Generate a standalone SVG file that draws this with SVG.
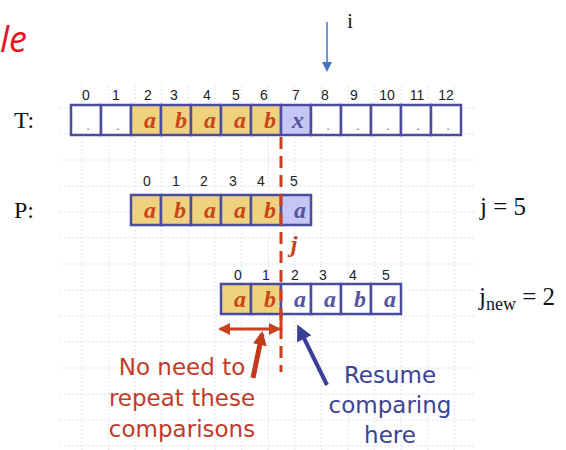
<svg xmlns="http://www.w3.org/2000/svg" width="566" height="450" viewBox="0 0 566 450">
<style>
.grid line{stroke:#DCE3F5;stroke-width:1;stroke-dasharray:2 2}
.cell{stroke:#4B4BA0;stroke-width:2.5}
.y{fill:#EFD27E}
.w{fill:#FFFFFF}
.v{fill:#C6C6F5}
.idx{font-family:"Liberation Sans",Arial,sans-serif;font-size:14px;fill:#222;text-anchor:middle}
.lr{font-family:"Liberation Serif","Times New Roman",serif;font-style:italic;font-weight:bold;font-size:24px;fill:#C8461A;text-anchor:middle}
.lb{font-family:"Liberation Serif","Times New Roman",serif;font-style:italic;font-weight:bold;font-size:24px;fill:#5555A0;text-anchor:middle}
.dot{font-family:"Liberation Sans",Arial,sans-serif;font-size:13px;fill:#666;text-anchor:middle}
.lab{font-family:"Liberation Serif","Times New Roman",serif;font-size:24px;fill:#111}
.note{font-family:"DejaVu Sans",Verdana,sans-serif;font-size:23px;text-anchor:middle}
</style>
<defs>
<marker id="ah-blue" markerWidth="10" markerHeight="10" refX="8" refY="5" orient="auto" markerUnits="userSpaceOnUse"><path d="M0,0 L10,5 L0,10 z" fill="#4472C4"/></marker>
<marker id="ah-red" markerWidth="12" markerHeight="12" refX="10" refY="6" orient="auto-start-reverse" markerUnits="userSpaceOnUse"><path d="M0,0 L12,6 L0,12 z" fill="#C8401E"/></marker>
<marker id="ah-red2" markerWidth="14" markerHeight="14" refX="11" refY="7" orient="auto" markerUnits="userSpaceOnUse"><path d="M0,0 L14,7 L0,14 z" fill="#C23A1A"/></marker>
<marker id="ah-navy" markerWidth="16" markerHeight="16" refX="12" refY="8" orient="auto" markerUnits="userSpaceOnUse"><path d="M0,0 L16,8 L0,16 z" fill="#3B3F99"/></marker>
</defs>
<rect width="566" height="450" fill="#FFFFFF"/>
<g class="grid">
<line x1="82" y1="85" x2="82" y2="450"/><line x1="108.6" y1="85" x2="108.6" y2="450"/><line x1="135.2" y1="85" x2="135.2" y2="450"/><line x1="161.8" y1="85" x2="161.8" y2="450"/><line x1="188.4" y1="85" x2="188.4" y2="450"/><line x1="215" y1="85" x2="215" y2="450"/><line x1="241.6" y1="85" x2="241.6" y2="450"/><line x1="268.2" y1="85" x2="268.2" y2="450"/><line x1="294.8" y1="85" x2="294.8" y2="450"/><line x1="321.4" y1="85" x2="321.4" y2="450"/><line x1="348" y1="85" x2="348" y2="450"/><line x1="374.6" y1="85" x2="374.6" y2="450"/><line x1="401.2" y1="85" x2="401.2" y2="450"/><line x1="427.8" y1="85" x2="427.8" y2="450"/><line x1="454.4" y1="85" x2="454.4" y2="450"/>
<line x1="60" y1="108" x2="475" y2="108"/><line x1="60" y1="134" x2="475" y2="134"/><line x1="60" y1="160" x2="475" y2="160"/><line x1="60" y1="186" x2="475" y2="186"/><line x1="60" y1="212" x2="475" y2="212"/><line x1="60" y1="238" x2="475" y2="238"/><line x1="60" y1="264" x2="475" y2="264"/><line x1="60" y1="290" x2="475" y2="290"/><line x1="60" y1="316" x2="475" y2="316"/><line x1="60" y1="342" x2="475" y2="342"/><line x1="60" y1="368" x2="475" y2="368"/><line x1="60" y1="394" x2="475" y2="394"/><line x1="60" y1="420" x2="475" y2="420"/><line x1="60" y1="446" x2="475" y2="446"/>
</g>
<text x="0" y="52" font-family="'Open Sans','Noto Sans',sans-serif" font-style="italic" font-size="36" fill="#E8141E">le</text>
<g id="i-pointer">
<text x="350" y="28" font-family="'Liberation Serif',serif" font-size="20" fill="#111" text-anchor="middle">i</text>
</g>
<g id="T">
<text class="lab" x="14" y="128">T:</text>
<rect class="cell w" x="71" y="105" width="30" height="30"/><rect class="cell w" x="101" y="105" width="30" height="30"/>
<rect class="cell y" x="131" y="105" width="30" height="30"/><rect class="cell y" x="161" y="105" width="30" height="30"/><rect class="cell y" x="191" y="105" width="30" height="30"/><rect class="cell y" x="221" y="105" width="30" height="30"/><rect class="cell y" x="251" y="105" width="30" height="30"/>
<rect class="cell v" x="281" y="105" width="30" height="30"/>
<rect class="cell w" x="311" y="105" width="30" height="30"/><rect class="cell w" x="341" y="105" width="30" height="30"/><rect class="cell w" x="371" y="105" width="30" height="30"/><rect class="cell w" x="401" y="105" width="30" height="30"/><rect class="cell w" x="431" y="105" width="30" height="30"/>
<text class="idx" x="86" y="100">0</text><text class="idx" x="116" y="100">1</text><text class="idx" x="148" y="100">2</text><text class="idx" x="174" y="100">3</text><text class="idx" x="207" y="100">4</text><text class="idx" x="236" y="100">5</text><text class="idx" x="264" y="100">6</text><text class="idx" x="296" y="100">7</text><text class="idx" x="325" y="100">8</text><text class="idx" x="354" y="100">9</text><text class="idx" x="387" y="100">10</text><text class="idx" x="417" y="100">11</text><text class="idx" x="446" y="100">12</text>
<text class="dot" x="88" y="130">.</text><text class="dot" x="118" y="130">.</text>
<text class="lr" x="150" y="128">a</text><text class="lr" x="181" y="128">b</text><text class="lr" x="210" y="128">a</text><text class="lr" x="240" y="128">a</text><text class="lr" x="270" y="128">b</text>
<text class="lb" x="298" y="128" fill="#55558A">x</text>
<text class="dot" x="328" y="130">.</text><text class="dot" x="358" y="130">.</text><text class="dot" x="388" y="130">.</text><text class="dot" x="418" y="130">.</text><text class="dot" x="448" y="130">.</text>
</g>
<g id="P">
<text class="lab" x="14" y="218">P:</text>
<rect class="cell y" x="131" y="195" width="30" height="30"/><rect class="cell y" x="161" y="195" width="30" height="30"/><rect class="cell y" x="191" y="195" width="30" height="30"/><rect class="cell y" x="221" y="195" width="30" height="30"/><rect class="cell y" x="251" y="195" width="30" height="30"/>
<rect class="cell v" x="281" y="195" width="30" height="30"/>
<text class="idx" x="147" y="186">0</text><text class="idx" x="176" y="186">1</text><text class="idx" x="204" y="186">2</text><text class="idx" x="233" y="186">3</text><text class="idx" x="261" y="186">4</text><text class="idx" x="294" y="186">5</text>
<text class="lr" x="150" y="218">a</text><text class="lr" x="180" y="218">b</text><text class="lr" x="210" y="218">a</text><text class="lr" x="240" y="218">a</text><text class="lr" x="270" y="218">b</text>
<text class="lb" x="300" y="218">a</text>
<text class="lr" x="294" y="252" font-weight="normal">j</text>
<text x="480" y="215" font-family="'Liberation Serif',serif" font-size="25" fill="#111">j = 5</text>
</g>
<g id="P-shifted">
<rect class="cell y" x="221" y="284" width="30" height="30"/><rect class="cell y" x="251" y="284" width="30" height="30"/>
<rect class="cell w" x="281" y="284" width="30" height="30"/><rect class="cell w" x="311" y="284" width="30" height="30"/><rect class="cell w" x="341" y="284" width="30" height="30"/><rect class="cell w" x="371" y="284" width="30" height="30"/>
<text class="idx" x="238" y="280">0</text><text class="idx" x="266" y="280">1</text><text class="idx" x="295" y="280">2</text><text class="idx" x="323" y="280">3</text><text class="idx" x="353" y="280">4</text><text class="idx" x="386" y="280">5</text>
<text class="lr" x="240" y="307">a</text><text class="lr" x="270" y="307">b</text>
<text class="lb" x="300" y="307">a</text><text class="lb" x="330" y="307">a</text><text class="lb" x="360" y="307">b</text><text class="lb" x="390" y="307">a</text>
<text x="479" y="305" font-family="'Liberation Serif',serif" font-size="25" fill="#111">j<tspan font-size="18" dy="5">new</tspan><tspan dy="-5"> = 2</tspan></text>
</g>
<g id="connectors">
<line x1="327" y1="22" x2="327" y2="70" stroke="#4472C4" stroke-width="1.5" marker-end="url(#ah-blue)"/>
<line x1="281" y1="137" x2="281" y2="372" stroke="#C8401E" stroke-width="3" stroke-dasharray="12 7"/>
<line x1="281" y1="314" x2="281" y2="330" stroke="#C8401E" stroke-width="3"/>
<line x1="220" y1="329" x2="279" y2="329" stroke="#C8401E" stroke-width="3" marker-start="url(#ah-red)" marker-end="url(#ah-red)"/>
<line x1="253" y1="378" x2="262" y2="334" stroke="#C23A1A" stroke-width="5" marker-end="url(#ah-red2)"/>
<line x1="327" y1="385" x2="299" y2="328" stroke="#3B3F99" stroke-width="4" marker-end="url(#ah-navy)"/>
</g>
<g id="notes">
<text class="note" fill="#C43A28"><tspan x="182" y="375">No need to</tspan><tspan x="182" y="406">repeat these</tspan><tspan x="182" y="437">comparisons</tspan></text>
<text class="note" fill="#3C4396"><tspan x="390" y="383">Resume</tspan><tspan x="390" y="413">comparing</tspan><tspan x="390" y="443">here</tspan></text>
</g>
</svg>
